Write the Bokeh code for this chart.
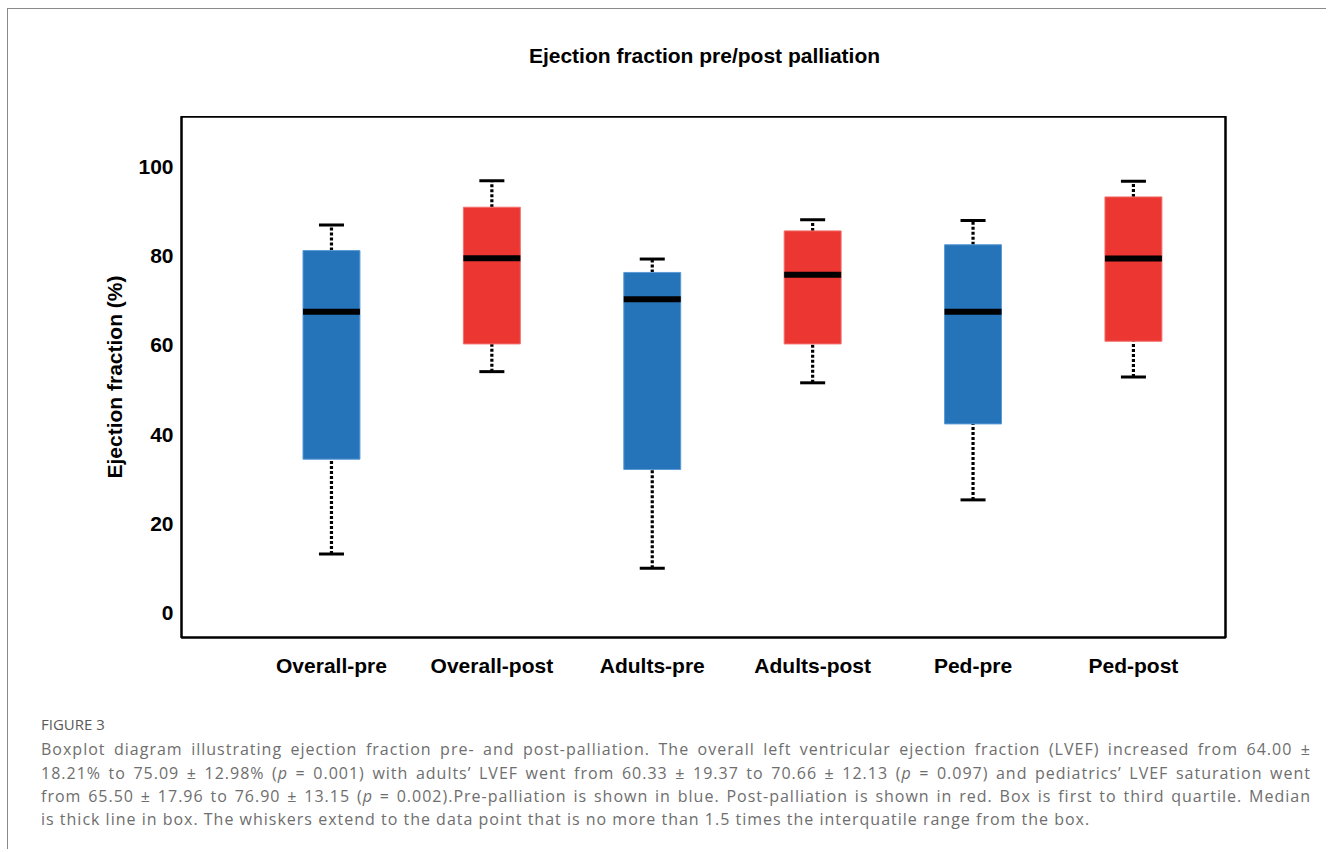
from bokeh.plotting import figure
from bokeh.layouts import column
from bokeh.models import Range1d, FixedTicker, Label, ColumnDataSource, Div
from bokeh.embed import file_html
from bokeh.resources import INLINE

# ---------------- data ----------------
categories = ["Overall-pre", "Overall-post", "Adults-pre", "Adults-post", "Ped-pre", "Ped-post"]
whisker_low = [13.3, 54.1, 10.1, 51.6, 25.4, 52.9]
q1 = [34.5, 60.3, 32.2, 60.3, 42.4, 60.9]
median = [67.5, 79.5, 70.3, 75.8, 67.5, 79.4]
q3 = [81.2, 90.9, 76.3, 85.6, 82.5, 93.2]
whisker_high = [86.9, 96.8, 79.3, 88.1, 87.9, 96.7]
phase = ["pre", "post", "pre", "post", "pre", "post"]
y_ticks = [0, 20, 40, 60, 80, 100]

title_text = "Ejection fraction pre/post palliation"
y_label = "Ejection fraction (%)"
figure_label = "FIGURE 3"
caption_lines = [
    "Boxplot diagram illustrating ejection fraction pre- and post-palliation. The overall left ventricular ejection fraction (LVEF) increased from 64.00 \u00b1",
    "18.21% to 75.09 \u00b1 12.98% (<i>p</i> = 0.001) with adults\u2019 LVEF went from 60.33 \u00b1 19.37 to 70.66 \u00b1 12.13 (<i>p</i> = 0.097) and pediatrics\u2019 LVEF saturation went",
    "from 65.50 \u00b1 17.96 to 76.90 \u00b1 13.15 (<i>p</i> = 0.002).Pre-palliation is shown in blue. Post-palliation is shown in red. Box is first to third quartile. Median",
    "is thick line in box. The whiskers extend to the data point that is no more than 1.5 times the interquatile range from the box.",
]

# ---------------- layout (page pixels) ----------------
W = 1318
OX, OY = 8, 9            # page position of the content origin
FRAME_L, FRAME_R, FRAME_T, FRAME_B = 181, 1225, 116, 637
MAIN_BOTTOM = 689        # page y where the caption block starts
PAGE_BOTTOM = 849
FONT = "Liberation Sans"
colors = {"pre": "#2574BA", "post": "#EC3632"}
edge = {"pre": "#5A9AD6", "post": "#F2706C"}

# ---- header strip with the title (its frame is aligned with the main frame) ----
head_h = FRAME_T - OY
head = figure(width=W, height=head_h, output_backend="svg", toolbar_location=None,
              x_range=Range1d(FRAME_L, FRAME_R), y_range=Range1d(FRAME_T, OY),
              x_axis_type=None, y_axis_type=None,
              min_border_left=FRAME_L - OX, min_border_right=W - (FRAME_R - OX),
              min_border_top=0, min_border_bottom=0)
head.outline_line_color = None
head.title.text = ""
head.add_layout(Label(x=704, y=55, text=title_text, text_align="center",
                      text_baseline="middle", text_font=FONT, text_font_style="bold",
                      text_font_size="21px", text_color="black"))

# ---- main box plot ----
xpos = list(range(1, len(categories) + 1))
src = ColumnDataSource(dict(
    x=xpos, lo=whisker_low, q1=q1, med=median, q3=q3, hi=whisker_high,
    color=[colors[p] for p in phase], edge=[edge[p] for p in phase],
))

main_h = MAIN_BOTTOM - FRAME_T
p = figure(width=W, height=main_h, output_backend="svg", toolbar_location=None,
           x_range=Range1d(0.065, 6.574), y_range=Range1d(-5.4, 111.2),
           min_border_left=FRAME_L - OX, min_border_right=W - (FRAME_R - OX),
           min_border_top=0, min_border_bottom=MAIN_BOTTOM - FRAME_B)
p.title.text = ""
p.xgrid.visible = False
p.ygrid.visible = False
p.outline_line_color = "black"
p.outline_line_width = 2.5

box_w = 0.355
cap_w = 0.156

# whiskers (dotted)
p.segment(x0="x", y0="q3", x1="x", y1="hi", source=src, line_color="black",
          line_width=3.2, line_dash="3 2")
p.segment(x0="x", y0="lo", x1="x", y1="q1", source=src, line_color="black",
          line_width=3.2, line_dash="3 2")
# caps
p.rect(x="x", y="hi", width=cap_w, height=3, height_units="screen", source=src,
       fill_color="black", line_color=None)
p.rect(x="x", y="lo", width=cap_w, height=3, height_units="screen", source=src,
       fill_color="black", line_color=None)
# boxes
p.vbar(x="x", bottom="q1", top="q3", width=box_w, source=src,
       fill_color="color", line_color="edge", line_width=1)
# medians
p.rect(x="x", y="med", width=box_w, height=6, height_units="screen", source=src,
       fill_color="black", line_color=None)

for ax in (p.xaxis[0], p.yaxis[0]):
    ax.axis_line_color = None
    ax.major_tick_line_color = None
    ax.minor_tick_line_color = None
    ax.major_label_text_font = FONT
    ax.major_label_text_font_style = "bold"
    ax.major_label_text_font_size = "21px"
    ax.major_label_text_color = "black"

p.yaxis.ticker = FixedTicker(ticks=y_ticks)
p.yaxis.major_label_standoff = 2
p.yaxis.axis_label = y_label
p.yaxis.axis_label_text_font = FONT
p.yaxis.axis_label_text_font_style = "bold"
p.yaxis.axis_label_text_font_size = "21px"
p.yaxis.axis_label_text_color = "black"
p.yaxis.axis_label_standoff = 9

p.xaxis.ticker = FixedTicker(ticks=xpos)
p.xaxis.major_label_overrides = {x: c for x, c in zip(xpos, categories)}
p.xaxis.major_label_standoff = 10

# ---- caption block ----
cap_h = PAGE_BOTTOM - MAIN_BOTTOM
line_h = 23.3
left = 41 - OX
parts = [
    f'<div style="position:absolute; left:{left}px; top:{724 - MAIN_BOTTOM - 10}px; '
    f'line-height:20px; font-size:15px; color:#5a5a5a;">{figure_label}</div>'
]
for i, line in enumerate(caption_lines):
    top = 750 + i * line_h - MAIN_BOTTOM - line_h / 2
    last = "justify" if i < len(caption_lines) - 1 else "left"
    parts.append(
        f'<div style="position:absolute; left:{left}px; top:{top:.1f}px; width:1270px; '
        f'line-height:{line_h}px; font-size:16px; letter-spacing:1px; color:#6e6e6e; '
        f'text-align:justify; text-align-last:{last};">{line}</div>'
    )
caption_html = (
    f'<div style="position:relative; width:{W}px; height:{cap_h}px; margin:0; padding:0; '
    f'font-family:\'Open Sans\', sans-serif;">' + "".join(parts) + "</div>"
)
cap = Div(text=caption_html, width=W, height=cap_h, styles={"margin": "0", "padding": "0"})

layout = column(head, p, cap, spacing=0,
                styles={"border-left": "1px solid #8a8a8a", "border-top": "1px solid #8a8a8a",
                        "margin-left": "7px", "margin-top": "8px"})

open("out.html", "w").write(file_html(layout, INLINE))
